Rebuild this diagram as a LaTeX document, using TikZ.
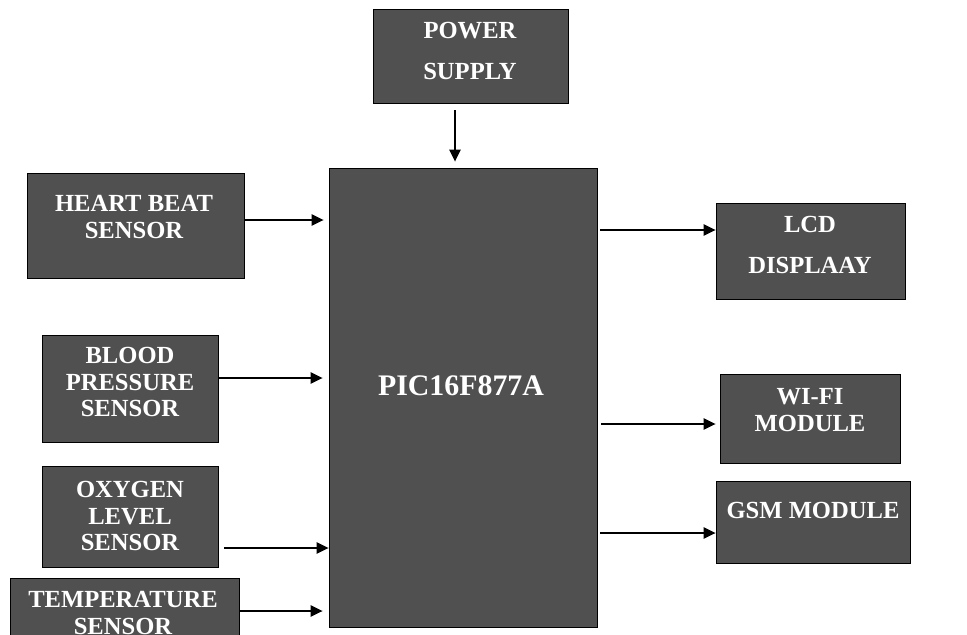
\documentclass[tikz,border=0pt]{standalone}
\usepackage{fontspec}
\setmainfont{Liberation Serif}
\usetikzlibrary{arrows.meta,positioning,fit}
\definecolor{boxgray}{HTML}{505050}

\begin{document}
\begin{tikzpicture}[
    x=0.02cm, y=-0.02cm,
    blk/.style={rectangle, draw=black, thin, fill=boxgray, inner sep=0pt},
    txt/.style={align=center, text=white, inner sep=0pt,
                font=\bfseries\fontsize{14}{15}\selectfont},
    arrow/.style={-{Triangle[length=2.4mm, width=2.2mm]}, line width=1.2pt}
]
\useasboundingbox (0,0) rectangle (967,635);

% ================= BLOCKS =================
\node[blk, fit={(373,9) (568,103)}] (pwr) {};
\node[blk, fit={(329,168) (597,627)}] (pic) {};

% Sensors (left)
\node[blk, fit={(27,173) (244,278)}] (heart) {};
\node[blk, fit={(42,335) (218,442)}] (bp) {};
\node[blk, fit={(42,466) (218,567)}] (oxy) {};
\node[blk, fit={(10,578) (239,660)}] (temp) {};

% Outputs (right)
\node[blk, fit={(716,203) (905,299)}] (lcd) {};
\node[blk, fit={(720,374) (900,463)}] (wifi) {};
\node[blk, fit={(716,481) (910,563)}] (gsm) {};

% ================= TEXTS =================
\node[txt] (pwrtxt) at (470,51) {POWER\\[8pt]SUPPLY};
\node[txt, font=\bfseries\fontsize{17}{18}\selectfont] (pictxt) at (461,386) {PIC16F877A};
\node[txt] (hearttxt) at (134,217) {HEART BEAT\\SENSOR};
\node[txt] (bptxt) at (130,382) {BLOOD\\PRESSURE\\SENSOR};
\node[txt] (oxytxt) at (130,516) {OXYGEN\\LEVEL\\SENSOR};
\node[txt] (temptxt) at (123,613) {TEMPERATURE\\SENSOR};
\node[txt] (lcdtxt) at (810,245) {LCD\\[8pt]DISPLAAY};
\node[txt] (wifitxt) at (810,410) {WI-FI\\MODULE};
\node[txt] (gsmtxt) at (813,510) {GSM MODULE};

% ================= ARROWS =================
\draw[arrow, shorten <=1.4mm, shorten >=1.2mm] (pwr.south -| 455,0) -- (pic.north -| 455,0);

\draw[arrow, shorten >=1mm] (heart.east |- 0,220) -- (pic.west |- 0,220);
\draw[arrow, shorten >=1.2mm] (bp.east |- 0,378) -- (pic.west |- 0,378);
\draw[arrow, shorten <=1.2mm] (oxy.east |- 0,548) -- (pic.west |- 0,548);
\draw[arrow, shorten >=1.2mm] (temp.east |- 0,611) -- (pic.west |- 0,611);

\draw[arrow, shorten <=0.6mm] (pic.east |- 0,230) -- (lcd.west |- 0,230);
\draw[arrow, shorten <=0.8mm, shorten >=0.8mm] (pic.east |- 0,424) -- (wifi.west |- 0,424);
\draw[arrow, shorten <=0.6mm] (pic.east |- 0,533) -- (gsm.west |- 0,533);

\end{tikzpicture}
\end{document}
